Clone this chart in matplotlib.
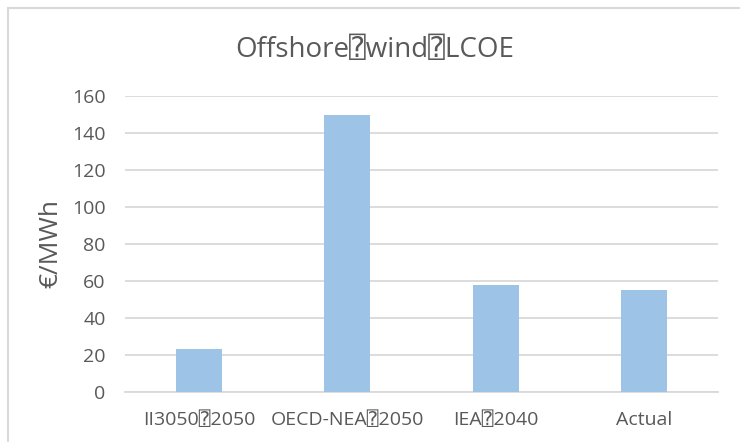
import matplotlib.pyplot as plt
from matplotlib.patches import Rectangle

# LCOE estimates for offshore wind, EUR/MWh
categories = ['II3050\u23702050', 'OECD-NEA\u23702050', 'IEA\u23702040', 'Actual']
lcoe = [23, 150, 58, 55]
yticks = [0, 20, 40, 60, 80, 100, 120, 140, 160]

plt.rcParams['font.family'] = ['Open Sans', 'DejaVu Sans Mono', 'DejaVu Sans']
text_color = '#595959'
grid_color = '#D9D9D9'

fig = plt.figure(figsize=(7.4, 4.42), dpi=100)
ax = fig.add_axes([125 / 740, 1 - 392 / 442, 593 / 740, 296 / 442])

ax.bar(range(len(categories)), lcoe, width=0.31, color='#9DC3E6', zorder=3)
ax.set_xlim(-0.5, len(categories) - 0.5)
ax.set_ylim(0, 160)
ax.set_yticks(yticks)
ax.set_xticks(range(len(categories)))
ax.set_xticklabels(categories)
ax.yaxis.grid(True, color=grid_color, linewidth=1.3, zorder=0)
ax.tick_params(axis='both', length=0, labelsize=14, colors=text_color)
ax.tick_params(axis='y', pad=14)
ax.tick_params(axis='x', pad=14)
for side in ['top', 'right', 'left']:
    ax.spines[side].set_visible(False)
ax.spines['bottom'].set_color(grid_color)
ax.spines['bottom'].set_linewidth(1.3)
ax.set_ylabel('\u20ac/MWh', fontsize=19, color=text_color, labelpad=6)

fig.text(375 / 740, 1 - 57 / 442, 'Offshore\u2370wind\u2370LCOE', ha='center',
         va='baseline', fontsize=20, color=text_color)

# chart area outline
fig.patches.append(Rectangle((8 / 740, -0.1), 1.1, 1 - 8 / 442 + 0.1,
                             transform=fig.transFigure, fill=False,
                             edgecolor=grid_color, linewidth=1.5))

fig.savefig('out.png', dpi=100)
